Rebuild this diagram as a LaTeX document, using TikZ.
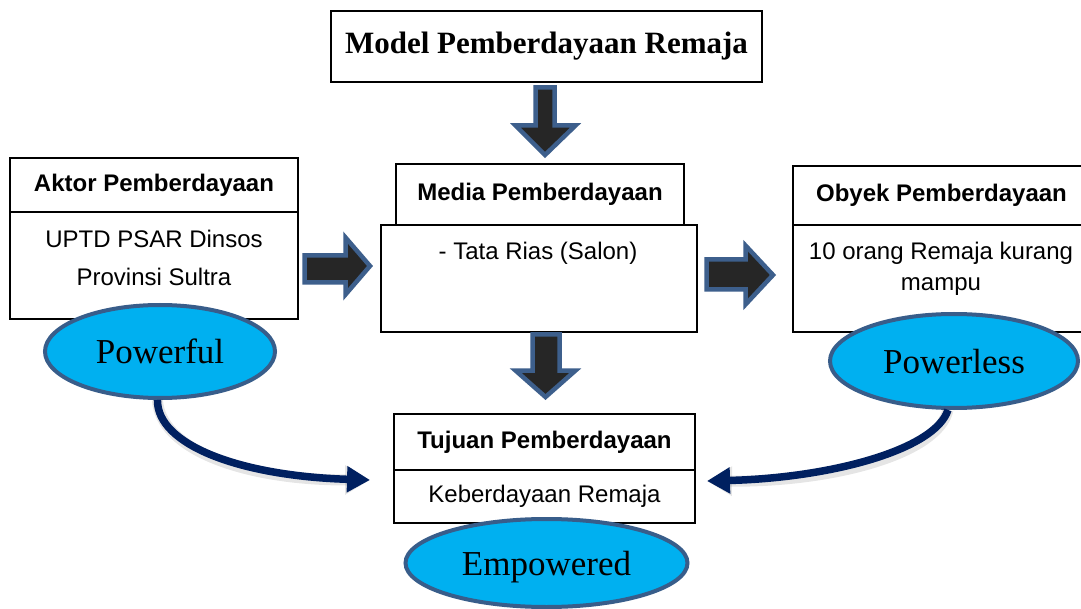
\documentclass[tikz,border=0pt]{standalone}
\usepackage{fontspec}
\setmainfont{Liberation Serif}
\setsansfont{Liberation Sans}
\usetikzlibrary{shapes.geometric,arrows.meta}
\definecolor{arrfill}{RGB}{38,38,38}
\definecolor{arrline}{RGB}{61,95,140}
\definecolor{ellfill}{RGB}{0,176,240}
\definecolor{ellline}{RGB}{56,93,138}
\definecolor{navy}{RGB}{0,32,96}
\begin{document}
\begin{tikzpicture}[x=1pt,y=-1pt,
 box/.style={draw=black, line width=1.2pt, fill=white, inner sep=0pt},
 hdr/.style={font=\sffamily\bfseries\fontsize{24}{28}\selectfont},
 bodybox/.style={font=\sffamily\fontsize{24}{28}\selectfont},
 bodytxt/.style={font=\sffamily\fontsize{24}{28}\selectfont, inner sep=0pt, anchor=base},
 oval/.style={ellipse, draw=ellline, line width=4pt, fill=ellfill, inner sep=0pt, text depth=0pt, font=\rmfamily\fontsize{35}{40}\selectfont},
 blockarrow/.style={draw=arrline, fill=arrfill, line width=4.5pt, line join=miter},
 curvearrow/.style={draw=navy, line width=7.5pt, -{Triangle[length=23pt,width=25pt]}},
 curveshadow/.style={draw=black, line width=11pt, opacity=0.10, -{Triangle[length=25pt,width=28pt]}}]
\useasboundingbox (0,0) rectangle (1081,609);
\fill[white] (0,0) rectangle (1081,609);

% top box
\node[box, minimum width=431pt, minimum height=71pt, font=\rmfamily\bfseries\fontsize{31}{36}\selectfont] (model) at (546.5,46.5) {Model Pemberdayaan Remaja};

% Aktor
\node[box, minimum width=288pt, minimum height=54pt, hdr] (aktorT) at (154,185) {Aktor Pemberdayaan};
\node[box, minimum width=288pt, minimum height=107pt] (aktorB) at (154,265.5) {};
\node[bodytxt] (aktorL1) at (154,248) {UPTD PSAR Dinsos};
\node[bodytxt] (aktorL2) at (154,286) {Provinsi Sultra};

% Media
\node[box, minimum width=288pt, minimum height=61pt, hdr] (mediaT) at (540,194.5) {Media Pemberdayaan};
\node[box, minimum width=316pt, minimum height=107pt] (mediaB) at (539,278.5) {};
\node[bodytxt] (mediaL1) at (538,260) {- Tata Rias (Salon)};

% Obyek
\node[box, minimum width=297pt, minimum height=59pt, hdr] (obyekT) at (941.5,195.5) {Obyek Pemberdayaan};
\node[box, minimum width=297pt, minimum height=107pt] (obyekB) at (941.5,278.5) {};
\node[bodytxt] (obyekL1) at (941,260) {10 orang Remaja kurang};
\node[bodytxt] (obyekL2) at (941,291) {mampu};

% Tujuan
\node[box, minimum width=301pt, minimum height=56pt, hdr] (tujuanT) at (544.5,442) {Tujuan Pemberdayaan};
\node[box, minimum width=301pt, minimum height=53pt, bodybox] (tujuanB) at (544.5,496.5) {Keberdayaan Remaja};

% block arrows
\draw[blockarrow] (535.5,87.5) -- (554.5,87.5) -- (554.5,125.5) -- (575.5,125.5) -- (545,155) -- (515.5,125.5) -- (535.5,125.5) -- cycle;
\draw[blockarrow] (532.5,334.5) -- (559.5,334.5) -- (559.5,370.5) -- (575.5,370.5) -- (545.5,397) -- (515.5,370.5) -- (532.5,370.5) -- cycle;
\draw[blockarrow] (304.5,255.5) -- (345.5,255.5) -- (345.5,237.5) -- (370,266) -- (345.5,294.5) -- (345.5,282.5) -- (304.5,282.5) -- cycle;
\draw[blockarrow] (706.5,259.5) -- (745.5,259.5) -- (745.5,245.5) -- (773,275) -- (745.5,304.5) -- (745.5,289.5) -- (706.5,289.5) -- cycle;

% ellipses
\node[oval, minimum width=230pt, minimum height=93pt] (powerful) at (160,351.5) {Powerful};
\node[oval, minimum width=248pt, minimum height=94pt] (powerless) at (954,361) {Powerless};
\node[oval, minimum width=282pt, minimum height=88pt] (empowered) at (546.5,563) {Empowered};

% curved arrows
\coordinate (tipL) at (370,480);
\coordinate (tipR) at (707,481);
\begin{scope}[xshift=3pt, yshift=-4pt]
\draw[curveshadow] (powerful.-93) .. controls (157,445) and (240,476) .. (tipL);
\draw[curveshadow] (powerless.-97) .. controls (935,450) and (830,478) .. (tipR);
\end{scope}
\draw[curvearrow] (powerful.-93) .. controls (157,445) and (240,476) .. (tipL);
\draw[curvearrow] (powerless.-97) .. controls (935,450) and (830,478) .. (tipR);
\end{tikzpicture}
\end{document}
